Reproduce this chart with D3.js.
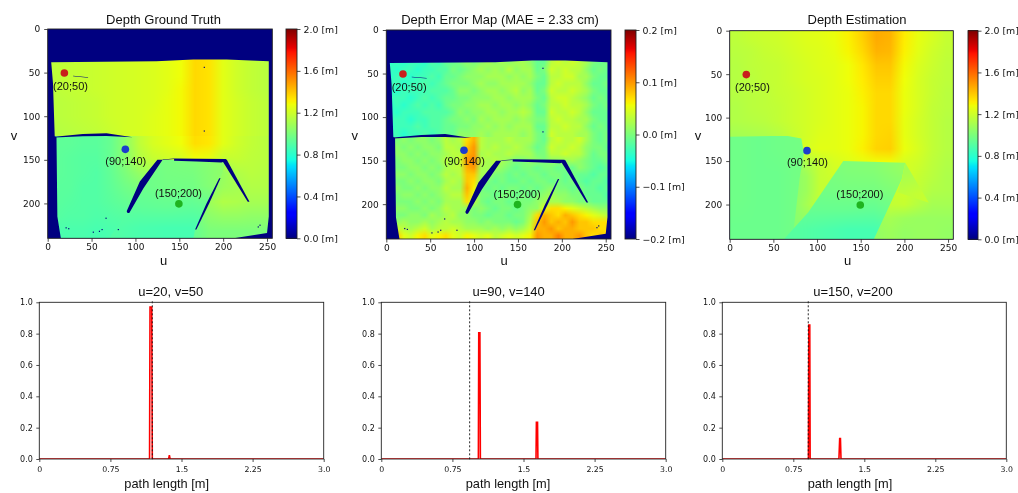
<!DOCTYPE html>
<meta charset="utf-8">
<style>
  html, body { margin: 0; background: #fff; }
  #wrap { position: relative; width: 1018px; height: 493px; overflow: hidden; filter: blur(0.4px); }
  canvas, svg { position: absolute; left: 0; top: 0; }
  text { fill: #111; }
</style>
<body>
<div id="wrap"></div>
<script src="https://d3js.org/d3.v7.min.js"></script>
<script>
// all depth values in cm
var gtUpper = [
  [116,117,118,119,120,121,122,123,125,128,136,133,125,120,117,115],
  [116,117,118,119,120,121,122,123,125,128,136,133,125,120,117,115],
  [116,117,118,119,120,121,122,123,125,128,136,134,125,120,117,115],
  [116,117,118,119,120,121,122,123,125,128,136,134,125,120,117,115],
  [116,117,118,119,120,121,122,123,125,129,136,134,125,120,117,115],
  [115,116,117,118,120,121,122,123,126,129,136,134,125,121,118,116],
  [115,116,117,118,120,121,122,124,126,129,136,134,125,121,118,116],
  [114,115,116,117,119,121,122,124,126,129,136,134,125,121,118,116]
];
var gtLower = [
  [93,93,92,92,95,104,116,122,125,128,135,133,125,120,117,115],
  [93,92,91,91,95,103,113,118,120,122,128,126,118,118,116,115],
  [93,92,91,90,94,100,106,110,100,100,100,104,106,113,115,114],
  [92,92,90,90,93,97,100,100,100,100,100,102,108,110,113,113],
  [92,91,90,90,92,94,96,96,96,96,100,108,113,112,110,110],
  [91,90,90,89,90,91,92,92,92,92,98,104,106,106,105,105],
  [88,88,88,87,88,88,88,88,88,88,95,100,100,100,100,100]
];
var gtTrapezoid = [
  [93,95,99,100,104],
  [93,96,98,98,104],
  [92,93,94,93,95],
  [90,88,87,87,90]
];
var errUpper = [
  [-4,-3,-4,-3,-3,-4,-2,-3,-1,-1,0,1,0,1,2,1,2,1,2,2,1,-1,-1,3,4,3,4,3,2,0,-1,0],
  [-3,-4,-3,-3,-4,-3,-3,-2,-2,0,-1,0,1,2,1,2,1,3,1,2,2,-1,0,4,3,4,3,3,1,-1,0,-1],
  [-4,-3,-3,-4,-3,-3,-2,-3,-1,-1,0,1,1,1,2,2,2,1,2,1,2,0,-1,3,3,4,4,2,2,0,-1,-1],
  [-3,-3,-4,-3,-3,-2,-3,-2,-1,0,0,0,1,2,1,1,2,2,2,2,1,-1,-1,3,4,3,3,3,1,-1,-1,0],
  [-4,-4,-3,-3,-3,-3,-2,-2,-2,-1,1,1,0,1,2,2,1,2,3,1,2,-1,0,4,3,3,4,3,2,0,-1,-1],
  [-3,-3,-3,-4,-3,-2,-3,-2,-1,-1,0,0,1,1,1,2,2,1,2,2,2,0,-1,3,4,4,3,2,1,-1,0,-1],
  [-4,-3,-4,-3,-2,-3,-2,-3,-1,0,0,1,1,2,2,1,2,2,1,2,1,-1,0,3,3,4,3,3,2,0,-1,0],
  [-3,-4,-3,-3,-3,-2,-2,-2,-2,-1,1,0,1,1,2,2,1,2,2,3,2,-1,-1,4,3,3,4,3,1,-1,-1,-1],
  [-3,-3,-3,-4,-3,-3,-2,-2,-1,0,0,1,0,2,1,2,2,2,1,2,1,0,0,3,4,3,3,2,2,0,-1,-1],
  [-4,-3,-3,-3,-2,-3,-2,-2,-1,-1,0,0,1,1,2,1,2,1,2,2,2,-1,-1,3,3,4,3,3,1,-1,0,-1],
  [-3,-3,-4,-3,-3,-2,-3,-2,-1,-1,1,1,1,2,1,2,2,2,2,1,2,0,-1,4,3,3,3,2,2,0,-1,0]
];
var errLower = [
  [1,0,1,0,1,1,0,1,3,2,3,7,9,3,2,2,2,3,2,2,2,0,-1,3,4,3,3,4,2,0,-1,0],
  [1,1,0,1,0,1,1,0,3,3,2,8,10,3,2,3,2,2,3,2,1,-1,0,4,3,3,4,3,1,0,0,-1],
  [0,1,1,0,1,0,1,1,2,3,3,9,10,2,3,2,2,3,2,2,2,0,0,3,3,4,3,3,1,-1,0,0],
  [0,0,1,1,0,1,0,1,3,2,4,10,11,3,2,3,2,1,0,0,1,1,0,1,1,1,2,1,0,-1,-1,0],
  [1,0,0,1,1,0,1,0,2,3,3,9,10,2,2,2,1,0,-1,0,0,-1,0,0,-1,0,-1,1,0,-1,-2,-1],
  [0,1,1,0,1,1,0,1,3,2,3,8,8,2,2,0,0,-1,0,-1,0,0,-1,0,0,-1,0,-1,-1,-2,-1,-1],
  [1,0,0,1,0,1,1,0,2,3,2,8,7,1,0,-1,0,-1,-1,0,-1,0,0,-1,0,-1,0,-1,-2,-1,-1,-2],
  [0,1,0,0,1,0,1,1,3,2,2,9,6,0,-1,0,-1,0,0,-1,0,-1,0,1,0,0,-1,0,-1,-1,-2,-1],
  [0,0,1,1,0,1,0,1,2,3,3,8,5,0,0,-1,0,0,-1,0,-1,0,1,2,1,1,0,0,-1,-1,-1,-2],
  [1,0,0,0,1,0,1,0,2,2,2,7,3,0,-1,0,0,-1,0,0,0,1,2,2,2,1,1,0,0,-1,-1,-1],
  [0,1,1,0,0,1,0,1,3,2,2,1,0,1,0,-1,0,0,-1,0,1,1,5,7,7,6,5,4,3,2,1,1],
  [1,0,0,1,1,0,2,1,2,3,1,1,0,0,-1,0,0,-1,0,0,2,7,9,8,7,9,8,7,6,5,4,3],
  [1,1,2,1,1,2,1,2,3,2,2,1,1,0,1,0,0,0,-1,0,3,8,10,8,9,8,10,8,8,7,7,7],
  [3,4,3,2,3,4,2,3,3,4,3,2,2,2,1,2,1,2,1,2,4,9,9,10,8,9,9,8,8,8,7,7],
  [6,8,5,4,6,7,5,6,7,5,4,6,5,4,5,3,4,5,4,5,6,10,9,9,11,9,9,10,8,7,8,7]
];
var estBase = [
  [116,118,119,120,122,124,125,127,131,138,146,144,132,126,122,118],
  [115,116,118,119,121,123,124,126,130,136,144,143,131,125,120,117],
  [114,116,117,118,120,122,124,125,128,133,140,140,129,123,119,116],
  [114,115,117,118,120,122,123,125,128,132,138,138,128,122,118,116],
  [114,115,116,118,119,121,123,125,127,131,136,136,127,122,118,115],
  [113,115,116,117,119,121,123,125,127,130,136,136,127,122,117,115],
  [113,114,115,117,119,121,123,125,127,130,136,136,126,121,117,114],
  [110,111,112,114,118,121,124,125,127,130,136,137,126,121,117,114],
  [112,113,114,115,118,122,125,125,127,131,137,138,127,122,117,114],
  [100,100,100,100,103,112,118,122,124,126,128,128,122,120,116,113],
  [100,100,100,100,103,108,118,120,120,120,122,124,122,118,115,112],
  [100,100,100,100,103,108,118,116,112,112,114,118,120,117,113,112],
  [100,100,100,100,103,110,118,112,108,108,112,117,118,114,110,110],
  [100,100,100,100,103,106,106,106,106,106,108,110,108,107,107,107],
  [100,100,100,100,102,103,103,103,103,103,106,108,106,107,107,106]
];
var estBox = [
  [97,96,97,98],
  [97,96,96,98],
  [97,96,96,98],
  [96,96,96,98]
];
var estTrapezoid = [
  [98,99,101,102,106],
  [97,98,99,99,102],
  [95,95,95,94,98],
  [91,89,87,87,92]
];
var estWedge = [
  [110,112],
  [116,118]
];

// outlines in image coordinates [u, v]
var validArea = [[4,38],[124,37],[166,35],[204,35],[252,37],[252,215],[250,234],[212,240],[15,240],[11,215],[10,124],[8,123],[6,62]];
var shadows = [
  [[8,123.5],[40,120.5],[67,119.5],[97,124],[67,122.8],[40,123],[8,124.5]],
  [[125,150],[131,150],[109,183],[93,211],[91,211],[90,209],[105,175]],
  [[131,149.6],[144,148.6],[144,149.2],[131,150.2]],
  [[144,148.5],[203,149],[204,151],[198,153],[170,152],[144,151]],
  [[199,151],[204,149.5],[230,198],[228,198]],
  [[197,171],[195.5,171],[181,200],[168,230],[169.5,230],[184,200]],
  [[29,53.6],[46,55.2],[46,55.8],[29,54.2]]
];
var specks = [[178.5,44],[178.5,117],[21,228],[24,229],[59,232],[62,230],[66.5,217],[80.5,230],[240,227],[242,225],[52,233]];
var gtTrapezoidArea = [[131,150],[203,152],[197,171],[168,230],[166,240],[70,240],[90,212]];
var estBoxArea = [[0,122],[65,121],[82,124],[85,140],[80,170],[72,240],[0,240]];
var estTrapezoidArea = [[130,150],[201,152],[197,171],[165,240],[62,240],[90,209]];
var estWedgeArea = [[201,152],[228,198],[192,186],[197,171]];

var probes = [
  {u: 19, v: 50.5, color: "#c8201c", label: "(20;50)", lu: 26, lv: 65},
  {u: 88.5, v: 138, color: "#1c3ccc", label: "(90;140)", lu: 89, lv: 151},
  {u: 149.5, v: 200.5, color: "#1fb41f", label: "(150;200)", lu: 149, lv: 188}
];

var uTicks = [0, 50, 100, 150, 200, 250];
var vTicks = [0, 50, 100, 150, 200];
var depthTicks = [0, 0.4, 0.8, 1.2, 1.6, 2.0];
var errorTicks = [-0.2, -0.1, 0, 0.1, 0.2];
var pathTicks = [0, 0.75, 1.5, 2.25, 3];
var pathTickLabels = ["0", "0.75", "1.5", "2.25", "3.0"];
var ampTicks = [0, 0.2, 0.4, 0.6, 0.8, 1.0];

var transient1 = [[0,0],[1.163,0],[1.168,0.97],[1.186,0.97],[1.192,0],[1.364,0],[1.372,0.025],[1.38,0],[3,0]];
var transient2 = [[0,0],[1.024,0],[1.028,0.805],[1.04,0.805],[1.045,0],[1.632,0],[1.636,0.235],[1.648,0.235],[1.652,0],[3,0]];
var transient3 = [[0,0],[0.91,0],[0.914,0.855],[0.924,0.855],[0.928,0],[1.232,0],[1.24,0.13],[1.248,0.13],[1.254,0],[3,0]];
var groundTruth = [1.192, 0.932, 0.908];
var bottomTitles = ["u=20, v=50", "u=90, v=140", "u=150, v=200"];

var width = 1018, height = 493;
var wrap = d3.select("#wrap");
var canvas = wrap.append("canvas").attr("width", width).attr("height", height);
var context = canvas.node().getContext("2d");
context.fillStyle = "#fff";
context.fillRect(0, 0, width, height);
var svg = wrap.append("svg").attr("width", width).attr("height", height);

var sans = "'Liberation Sans', Arial, sans-serif";
var deja = "'DejaVu Sans', sans-serif";

// matplotlib jet
var jetR = d3.scaleLinear().domain([0, 0.35, 0.66, 0.89, 1]).range([0, 0, 1, 1, 0.5]).clamp(true);
var jetG = d3.scaleLinear().domain([0, 0.125, 0.375, 0.64, 0.91, 1]).range([0, 0, 1, 1, 0, 0]).clamp(true);
var jetB = d3.scaleLinear().domain([0, 0.11, 0.34, 0.65, 1]).range([0.5, 1, 1, 0, 0]).clamp(true);
function jet(t) {
  return d3.rgb(jetR(t) * 255, jetG(t) * 255, jetB(t) * 255).formatHex();
}

function tracePoly(x, y, poly) {
  context.beginPath();
  poly.forEach(function(p, i) {
    if (i) context.lineTo(x(p[0]), y(p[1]));
    else context.moveTo(x(p[0]), y(p[1]));
  });
  context.closePath();
}

function drawGrid(x, y, color, grid, ext, clip) {
  var rows = grid.length, cols = grid[0].length;
  var off = document.createElement("canvas");
  off.width = cols; off.height = rows;
  var c = off.getContext("2d");
  grid.forEach(function(row, j) {
    row.forEach(function(d, i) {
      c.fillStyle = color(d);
      c.fillRect(i, j, 1, 1);
    });
  });
  context.save();
  if (clip) { tracePoly(x, y, clip); context.clip(); }
  context.imageSmoothingEnabled = true;
  context.imageSmoothingQuality = "medium";
  context.drawImage(off, x(ext[0]), y(ext[2]), x(ext[1]) - x(ext[0]), y(ext[3]) - y(ext[2]));
  context.restore();
}

function frame(g, w, h) {
  g.append("rect").attr("width", w).attr("height", h)
    .attr("fill", "none").attr("stroke", "#222").attr("stroke-width", 0.9);
}

function styleAxis(a, size, font) {
  a.select(".domain").remove();
  a.selectAll("line").attr("stroke", "#222").attr("stroke-width", 0.8);
  a.selectAll("text").attr("font-family", font || deja).attr("font-size", size).attr("fill", "#222");
}

function imagePanel(opt) {
  var x = d3.scaleLinear().domain([0, 256]).range([opt.x0, opt.x1]);
  var y = d3.scaleLinear().domain([0, 240]).range([opt.y0, opt.y1]);
  var color = function(d) { return jet((d - opt.min) / (opt.max - opt.min)); };

  context.fillStyle = color(opt.min);
  context.fillRect(opt.x0, opt.y0, opt.x1 - opt.x0, opt.y1 - opt.y0);
  context.save();
  if (opt.mask) { tracePoly(x, y, validArea); context.clip(); }
  opt.layers.forEach(function(l) { drawGrid(x, y, color, l.grid, l.ext, l.clip); });
  context.restore();
  if (opt.mask) {
    context.fillStyle = color(opt.min);
    shadows.forEach(function(p) { tracePoly(x, y, p); context.fill(); });
    specks.forEach(function(p) { context.fillRect(x(p[0]) - 0.6, y(p[1]) - 0.6, 1.2, 1.2); });
  }

  // colorbar
  var cb = d3.scaleLinear().domain([opt.min / 100, opt.max / 100]).range([opt.y1, opt.y0]);
  d3.range(Math.floor(opt.y0), opt.y1, 1).forEach(function(py) {
    context.fillStyle = color(cb.invert(py + 0.5) * 100);
    context.fillRect(opt.cx0, py, opt.cx1 - opt.cx0, 1);
  });

  var g = svg.append("g");
  g.append("g").attr("transform", "translate(0," + opt.y1 + ")")
    .call(d3.axisBottom(x).tickValues(uTicks).tickSize(3.5).tickPadding(2).tickFormat(d3.format("d")))
    .call(styleAxis, 9);
  g.append("g").attr("transform", "translate(" + opt.x0 + ",0)")
    .call(d3.axisLeft(y).tickValues(vTicks).tickSize(3.5).tickPadding(4).tickFormat(d3.format("d")))
    .call(styleAxis, 9);
  frame(g.append("g").attr("transform", "translate(" + opt.x0 + "," + opt.y0 + ")"), opt.x1 - opt.x0, opt.y1 - opt.y0);

  g.append("g").attr("transform", "translate(" + opt.cx1 + ",0)")
    .call(d3.axisRight(cb).tickValues(opt.ticks).tickSize(3.5).tickPadding(3)
      .tickFormat(function(d) { return d3.format(".1f")(d).replace("-", "\u2212") + " [m]"; }))
    .call(styleAxis, 9.4);
  frame(g.append("g").attr("transform", "translate(" + opt.cx0 + "," + opt.y0 + ")"), opt.cx1 - opt.cx0, opt.y1 - opt.y0);

  g.append("text").attr("x", opt.titleX).attr("y", 23.5)
    .attr("text-anchor", "middle").attr("font-family", sans).attr("font-size", 13).text(opt.title);
  g.append("text").attr("x", opt.uX).attr("y", 264.5)
    .attr("text-anchor", "middle").attr("font-family", sans).attr("font-size", 13).text("u");
  g.append("text").attr("x", opt.vX).attr("y", 140)
    .attr("text-anchor", "middle").attr("font-family", sans).attr("font-size", 13).text("v");

  g.selectAll("circle").data(probes).join("circle")
    .attr("cx", function(d) { return x(d.u); })
    .attr("cy", function(d) { return y(d.v); })
    .attr("r", 3.8)
    .attr("fill", function(d) { return d.color; });
  g.selectAll(".probe").data(probes).join("text").attr("class", "probe")
    .attr("x", function(d) { return x(d.lu); })
    .attr("y", function(d) { return y(d.lv) + 4; })
    .attr("text-anchor", "middle").attr("font-family", sans).attr("font-size", 11)
    .text(function(d) { return d.label; });
}

imagePanel({
  title: "Depth Ground Truth", x0: 47.7, x1: 272.3, y0: 29, y1: 238.3, cx0: 286, cx1: 297,
  titleX: 163.5, uX: 163.5, vX: 14,
  min: 0, max: 200, ticks: depthTicks, mask: true,
  layers: [
    {grid: gtUpper, ext: [0, 256, 0, 123]},
    {grid: gtLower, ext: [0, 256, 123, 240]},
    {grid: gtTrapezoid, ext: [60, 210, 144, 240], clip: gtTrapezoidArea}
  ]
});
imagePanel({
  title: "Depth Error Map (MAE = 2.33 cm)", x0: 386.3, x1: 611, y0: 30, y1: 239, cx0: 625, cx1: 636,
  titleX: 500, uX: 504, vX: 354.7,
  min: -20, max: 20, ticks: errorTicks, mask: true,
  layers: [
    {grid: errUpper, ext: [0, 256, 33, 123]},
    {grid: errLower, ext: [0, 256, 123, 240]}
  ]
});
imagePanel({
  title: "Depth Estimation", x0: 729.7, x1: 953.3, y0: 30.7, y1: 239.3, cx0: 968, cx1: 978,
  titleX: 857, uX: 847.7, vX: 698,
  min: 0, max: 200, ticks: depthTicks, mask: false,
  layers: [
    {grid: estBase, ext: [0, 256, 0, 240]},
    {grid: estBox, ext: [0, 88, 121, 240], clip: estBoxArea},
    {grid: estTrapezoid, ext: [60, 210, 148, 240], clip: estTrapezoidArea},
    {grid: estWedge, ext: [190, 230, 150, 200], clip: estWedgeArea}
  ]
});

function pathPanel(x0, x1, series, gt, title, titleX, labelX) {
  var y0 = 302.3, y1 = 459;
  var x = d3.scaleLinear().domain([0, 3]).range([x0, x1]);
  var y = d3.scaleLinear().domain([0, 1]).range([y1, y0]);
  var g = svg.append("g");
  var id = "clip" + Math.round(x0);
  g.append("clipPath").attr("id", id).append("rect")
    .attr("x", x0).attr("y", y0).attr("width", x1 - x0).attr("height", y1 - y0);

  g.append("path").attr("clip-path", "url(#" + id + ")")
    .attr("d", d3.line().x(function(d) { return x(d[0]); }).y(function(d) { return y(d[1]); })(series))
    .attr("fill", "none").attr("stroke", "#ff0000").attr("stroke-width", 1.6);
  g.append("line").attr("x1", x(gt)).attr("x2", x(gt)).attr("y1", y0 - 1).attr("y2", y1 + 2)
    .attr("stroke", "#111").attr("stroke-width", 0.9).attr("stroke-dasharray", "2,2");

  g.append("g").attr("transform", "translate(0," + y1 + ")")
    .call(d3.axisBottom(x).tickValues(pathTicks).tickSize(3).tickPadding(4)
      .tickFormat(function(d, i) { return pathTickLabels[i]; }))
    .call(styleAxis, 7.8);
  g.append("g").attr("transform", "translate(" + x0 + ",0)")
    .call(d3.axisLeft(y).tickValues(ampTicks).tickSize(3).tickPadding(3.5).tickFormat(d3.format(".1f")))
    .call(styleAxis, 8);
  frame(g.append("g").attr("transform", "translate(" + x0 + "," + y0 + ")"), x1 - x0, y1 - y0);

  g.append("text").attr("x", titleX).attr("y", 295.7)
    .attr("text-anchor", "middle").attr("font-family", sans).attr("font-size", 13).text(title);
  g.append("text").attr("x", labelX).attr("y", 488)
    .attr("text-anchor", "middle").attr("font-family", sans).attr("font-size", 12.8).text("path length [m]");
}

pathPanel(39.3, 323.7, transient1, groundTruth[0], bottomTitles[0], 170.8, 166.7);
pathPanel(381.3, 665.7, transient2, groundTruth[1], bottomTitles[1], 508.7, 508);
pathPanel(722.3, 1006.3, transient3, groundTruth[2], bottomTitles[2], 853, 850);
</script>
</body>
